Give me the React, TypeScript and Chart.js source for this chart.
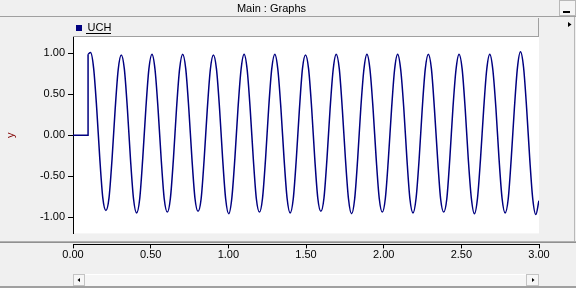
import React, { useEffect, useRef } from "react";
import { Chart, registerables } from "chart.js";

Chart.register(...registerables);

const windowTitle = "Main : Graphs";
const seriesName = "UCH";
const yAxisTitle = "y";
const xTicks = [0, 0.5, 1, 1.5, 2, 2.5, 3];
const yTicks = [-1, -0.5, 0, 0.5, 1];

// flat lead-in before the signal starts
const leadTimes = [0, 0.097, 0.097];
const leadValues = [0, 0, 0.99];

// sampled signal (s)
const sampleStart = 0.113;
const sampleStep = 0.01977;
const uchValues = [
  1.01, 0.82, 0.33, -0.28, -0.77, -0.92, -0.77, -0.29, 0.31, 0.8,
  0.98, 0.81, 0.32, -0.29, -0.78, -0.95, -0.78, -0.28, 0.32, 0.81,
  0.99, 0.8, 0.31, -0.29, -0.78, -0.94, -0.77, -0.28, 0.33, 0.81,
  0.99, 0.81, 0.32, -0.28, -0.77, -0.93, -0.78, -0.29, 0.31, 0.8,
  0.98, 0.81, 0.33, -0.28, -0.78, -0.96, -0.77, -0.28, 0.32, 0.8,
  0.99, 0.8, 0.31, -0.29, -0.78, -0.94, -0.77, -0.28, 0.33, 0.81,
  0.99, 0.8, 0.32, -0.28, -0.77, -0.95, -0.78, -0.29, 0.31, 0.81,
  0.98, 0.81, 0.33, -0.28, -0.77, -0.93, -0.77, -0.28, 0.32, 0.8,
  0.99, 0.81, 0.31, -0.29, -0.78, -0.96, -0.78, -0.28, 0.33, 0.8,
  0.99, 0.8, 0.32, -0.28, -0.77, -0.94, -0.77, -0.28, 0.31, 0.8,
  0.99, 0.8, 0.33, -0.28, -0.78, -0.95, -0.77, -0.29, 0.32, 0.81,
  0.99, 0.81, 0.31, -0.28, -0.78, -0.94, -0.78, -0.28, 0.33, 0.8,
  0.99, 0.81, 0.32, -0.29, -0.77, -0.96, -0.77, -0.28, 0.31, 0.8,
  0.99, 0.8, 0.33, -0.28, -0.77, -0.95, -0.78, -0.28, 0.32, 0.82,
  1.02, 0.83, 0.33, -0.28, -0.78, -0.97, -0.8,
];

const FONT = "'Liberation Sans', Arial, sans-serif";
const NAVY = "#000080";
const GREY_BG = "#f0f0f0";
const GREY_LINE = "#a0a0a0";

const chromePlugin = {
  id: "chrome",
  beforeDraw(chart: any) {
    const { ctx, width, height, chartArea: a } = chart;
    ctx.save();
    ctx.fillStyle = GREY_BG;
    ctx.fillRect(0, 0, width, height);
    // title bar bottom line
    ctx.fillStyle = GREY_LINE;
    ctx.fillRect(0, 16, width, 1);
    // minimize button
    ctx.fillStyle = "#f4f4f4";
    ctx.fillRect(559, 0, 17, 16);
    ctx.strokeStyle = "#b8b8b8";
    ctx.lineWidth = 1;
    ctx.strokeRect(559.5, 0.5, 16, 15);
    ctx.fillStyle = "#000";
    ctx.fillRect(563, 11, 7, 2);
    // legend strip borders
    ctx.fillStyle = GREY_LINE;
    ctx.fillRect(a.left, a.top - 1, a.right - a.left, 1);
    ctx.fillRect(a.right - 1, 18, 1, a.top - 18);
    // right panel border
    ctx.fillStyle = "#b8b8b8";
    ctx.fillRect(574, 17, 1, 225);
    // small arrow on the right
    ctx.fillStyle = "#000";
    ctx.beginPath();
    ctx.moveTo(568, 22);
    ctx.lineTo(571.5, 24.5);
    ctx.lineTo(568, 27);
    ctx.closePath();
    ctx.fill();
    // white plot area
    ctx.fillStyle = "#ffffff";
    ctx.fillRect(a.left, a.top, a.right - a.left, a.bottom - a.top);
    // separator above x axis
    ctx.fillStyle = "#b0b0b0";
    ctx.fillRect(0, 241, width, 1);
    ctx.fillStyle = "#909090";
    ctx.fillRect(0, 242, width, 1);
    // scrollbar
    const sTop = 274;
    const sH = 12;
    ctx.fillStyle = "#f6f6f6";
    ctx.fillRect(a.left, sTop, a.right - a.left, sH);
    ctx.fillStyle = "#ffffff";
    ctx.fillRect(a.left, sTop, a.right - a.left, 1);
    ctx.strokeStyle = "#c4c4c4";
    ctx.strokeRect(a.left + 0.5, sTop + 0.5, 11, sH - 1);
    ctx.strokeRect(a.right - 12.5, sTop + 0.5, 12, sH - 1);
    ctx.fillStyle = "#000";
    ctx.beginPath();
    ctx.moveTo(a.left + 7, sTop + 4);
    ctx.lineTo(a.left + 4.5, sTop + 6);
    ctx.lineTo(a.left + 7, sTop + 8);
    ctx.closePath();
    ctx.fill();
    ctx.beginPath();
    ctx.moveTo(a.right - 7, sTop + 4);
    ctx.lineTo(a.right - 4.5, sTop + 6);
    ctx.lineTo(a.right - 7, sTop + 8);
    ctx.closePath();
    ctx.fill();
    ctx.fillStyle = GREY_LINE;
    ctx.fillRect(0, 286, width, 2);
    ctx.restore();
  },
  afterDraw(chart: any) {
    const lg = chart.legend;
    if (!lg || !lg.legendHitBoxes || !lg.legendHitBoxes.length) return;
    const hb = lg.legendHitBoxes[0];
    const textX = hb.left + 6 + 11 / 2;
    const { ctx } = chart;
    ctx.save();
    ctx.fillStyle = "#000";
    ctx.fillRect(Math.round(textX) - 2, 33, Math.round(hb.left + hb.width - textX) + 1, 1);
    ctx.restore();
  },
};

export default function App() {
  const canvasRef = useRef<HTMLCanvasElement | null>(null);

  useEffect(() => {
    if (!canvasRef.current) return;
    const leadPoints = leadTimes.map((t, i) => ({ x: t, y: leadValues[i] }));
    const signalPoints = [leadPoints[leadPoints.length - 1]].concat(
      uchValues.map((v, i) => ({ x: sampleStart + i * sampleStep, y: v }))
    );

    const chart = new Chart(canvasRef.current, {
      type: "line",
      data: {
        datasets: [
          {
            label: seriesName,
            data: signalPoints,
            borderColor: NAVY,
            backgroundColor: NAVY,
            borderWidth: 1.5,
            pointRadius: 0,
            cubicInterpolationMode: "monotone",
            fill: false,
          },
          {
            label: seriesName + " lead",
            data: leadPoints,
            borderColor: NAVY,
            backgroundColor: NAVY,
            borderWidth: 1.5,
            pointRadius: 0,
            tension: 0,
            fill: false,
          },
        ],
      },
      options: {
        responsive: false,
        animation: false,
        devicePixelRatio: 1,
        layout: { padding: { top: 0, left: 4, right: 37, bottom: 26.4 } },
        font: { family: FONT, size: 11 },
        plugins: {
          tooltip: { enabled: false },
          title: {
            display: true,
            text: windowTitle,
            color: "#000",
            font: { family: FONT, size: 11, weight: "normal" },
            padding: { top: 2, bottom: 4.3 },
          },
          legend: {
            display: true,
            position: "top",
            align: "start",
            fullSize: false,
            maxHeight: 17.5,
            labels: {
              boxWidth: 6,
              boxHeight: 6,
              padding: 3,
              color: "#000",
              font: { family: FONT, size: 11 },
              filter: (item: any) => item.datasetIndex === 0,
              generateLabels: (c: any) =>
                Chart.defaults.plugins.legend.labels
                  .generateLabels(c)
                  .map((l: any) => ({ ...l, lineWidth: 0, fillStyle: NAVY, strokeStyle: NAVY })),
            },
          },
        },
        scales: {
          x: {
            type: "linear",
            position: "bottom",
            weight: 1,
            min: 0,
            max: 3,
            afterBuildTicks: (s: any) => {
              s.ticks = xTicks.map((v) => ({ value: v }));
            },
            border: { display: true, color: "#000", width: 1 },
            grid: {
              display: true,
              drawOnChartArea: false,
              drawTicks: true,
              tickLength: 4,
              color: "#000",
            },
            ticks: {
              color: "#000",
              font: { family: FONT, size: 11 },
              padding: 0,
              maxRotation: 0,
              autoSkip: false,
              callback: (v: any) => Number(v).toFixed(2),
            },
          },
          xGap: {
            type: "linear",
            position: "bottom",
            weight: 0,
            min: 0,
            max: 1,
            display: true,
            border: { display: false },
            grid: { display: false, drawTicks: false },
            ticks: { display: false },
            afterFit: (s: any) => {
              s.height = 11;
            },
          },
          y: {
            type: "linear",
            position: "left",
            min: -1.2,
            max: 1.2,
            afterBuildTicks: (s: any) => {
              s.ticks = yTicks.map((v) => ({ value: v }));
            },
            afterFit: (s: any) => {
              s.width = 69;
            },
            border: { display: true, color: "#000", width: 1 },
            grid: {
              display: true,
              drawOnChartArea: false,
              drawTicks: true,
              tickLength: 5,
              color: "#000",
            },
            ticks: {
              color: "#000",
              font: { family: FONT, size: 11 },
              padding: 3,
              callback: (v: any) => Number(v).toFixed(2),
            },
            title: {
              display: true,
              text: yAxisTitle,
              color: "#800000",
              font: { family: FONT, size: 11 },
              padding: { top: 0, bottom: 0 },
            },
          },
        },
      },
      plugins: [chromePlugin],
    } as any);

    return () => chart.destroy();
  }, []);

  return (
    <div style={{ position: "fixed", left: 0, top: 0, width: 576, height: 288 }}>
      <canvas ref={canvasRef} width={576} height={288} style={{ display: "block" }} />
    </div>
  );
}
